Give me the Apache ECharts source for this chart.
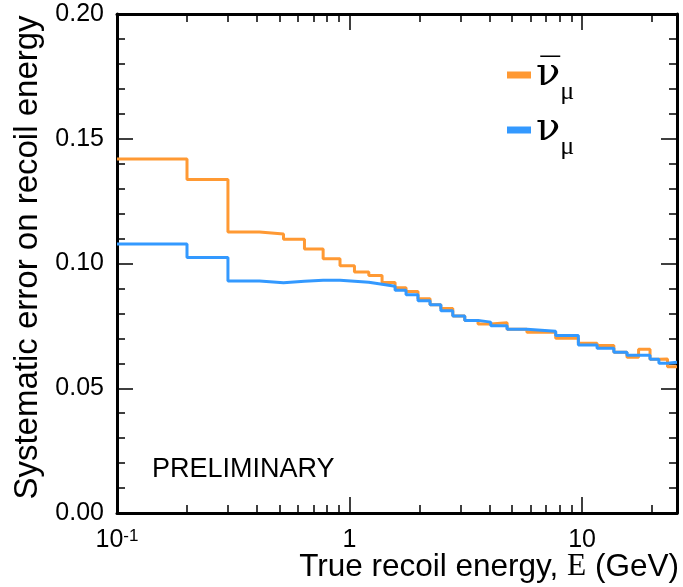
<!DOCTYPE html>
<html><head><meta charset="utf-8">
<script src="https://cdn.jsdelivr.net/npm/echarts@6/dist/echarts.min.js"></script>
<style>html,body{margin:0;padding:0;background:#fff}#c{width:683px;height:587px}</style>
</head><body><div id="c"></div>
<script>
// Bin edges (GeV) of the step histograms
const binEdges = [0.1,0.2,0.3,0.41,0.52,0.64,0.77,0.91,1.05,1.21,1.38,1.57,1.75,1.97,2.22,2.47,2.78,3.13,3.57,4.05,4.76,5.79,7.7,9.64,11.6,13.7,15.6,17.5,19.6,21.4,23.3,25.6];
// anti-neutrino (orange)
const antiNuMu = [0.1419,0.1337,0.1126,0.1118,0.1097,0.1058,0.1019,0.0991,0.0966,0.0952,0.0924,0.0903,0.0888,0.0859,0.0835,0.0820,0.0790,0.0772,0.0758,0.0763,0.0736,0.0724,0.0700,0.0680,0.0671,0.0644,0.0624,0.0656,0.0616,0.0617,0.0586];
// neutrino (blue)
const nuMu = [0.1078,0.1024,0.0930,0.0923,0.0929,0.0933,0.0933,0.0929,0.0925,0.0917,0.0909,0.0893,0.0875,0.0851,0.0835,0.0811,0.0790,0.0772,0.0765,0.0751,0.0736,0.0728,0.0711,0.0673,0.0660,0.0644,0.0632,0.0632,0.0616,0.0600,0.0604];
// axis ticks
const xMajorTicks = [0.1, 1, 10];
const xMinorTicks = [0.2,0.3,0.4,0.5,0.6,0.7,0.8,0.9,2,3,4,5,6,7,8,9,20];
const xTickLabels = {'-1': '10{s|-1}', '0': '1', '1': '10'};

function stepData(vals) {
  const d = vals.map((v, i) => [binEdges[i], v]);
  d.push([binEdges[binEdges.length - 1], vals[vals.length - 1]]);
  return d;
}

const SANS = 'Liberation Sans';
const SERIF = 'Liberation Serif';
const tickStyle = {color: '#000', width: 1.5};
const lineAx = {show: true, lineStyle: {color: '#000', width: 3}};

const xBase = {
  type: 'log', logBase: 10, min: 0.1, max: 25.6,
  splitLine: {show: false}, minorTick: {show: false}, minorSplitLine: {show: false}
};
const yBase = {
  type: 'value', min: 0, max: 0.2, interval: 0.05,
  splitLine: {show: false}, minorSplitLine: {show: false},
  axisTick: {show: true, inside: true, length: 16, lineStyle: tickStyle},
  minorTick: {show: true, splitNumber: 5, length: 8, lineStyle: tickStyle},
  axisLine: lineAx
};

const chart = echarts.init(document.getElementById('c'), null, {renderer: 'canvas'});
chart.setOption({
  animation: false,
  backgroundColor: '#fff',
  grid: {left: 117, right: 6, top: 14, bottom: 74, containLabel: false, outerBoundsMode: 'none'},
  title: {
    text: 'PRELIMINARY', left: 147, top: 451,
    textStyle: {fontFamily: SANS, fontSize: 27, fontWeight: 'normal', color: '#000'}
  },
  legend: {
    orient: 'vertical', left: 502, top: 50,
    itemWidth: 24, itemHeight: 7, itemGap: 5, icon: 'rect',
    data: ['antiNuMu', 'nuMu'],
    formatter: n => n === 'antiNuMu' ? '{nu|\u03BD\u0305}{sub|\u03BC}' : '{nu|\u03BD}{sub|\u03BC}',
    textStyle: {
      color: '#000',
      rich: {
        nu: {fontFamily: 'DejaVu Serif', fontSize: 40, lineHeight: 48, color: '#000'},
        sub: {fontFamily: SERIF, fontSize: 26, lineHeight: 60, verticalAlign: 'bottom', color: '#000'}
      }
    }
  },
  xAxis: [
    Object.assign({}, xBase, {
      position: 'bottom',
      axisLine: lineAx,
      axisTick: {show: true, inside: true, length: 16, lineStyle: tickStyle, customValues: xMajorTicks},
      axisLabel: {
        customValues: xMajorTicks, margin: 15, color: '#000', fontFamily: SANS, fontSize: 25,
        formatter: v => xTickLabels[String(Math.round(Math.log10(v)))],
        rich: {s: {fontFamily: SANS, fontSize: 17, verticalAlign: 'top', lineHeight: 17, color: '#000'}}
      },
      name: '{a|True recoil energy, }{e|E}{a| (GeV)}',
      nameLocation: 'end', nameGap: 2, nameMoveOverlap: false,
      nameTextStyle: {
        align: 'right', verticalAlign: 'top', padding: [37, 0, 0, 0],
        rich: {
          a: {fontFamily: SANS, fontSize: 31.5, color: '#000', lineHeight: 34},
          e: {fontFamily: 'Liberation Serif', fontSize: 31.5, color: '#000', lineHeight: 34}
        }
      }
    }),
    Object.assign({}, xBase, {
      position: 'bottom', axisLine: {show: false},
      axisTick: {show: true, inside: true, length: 8, lineStyle: tickStyle, customValues: xMinorTicks},
      axisLabel: {show: false}
    }),
    Object.assign({}, xBase, {
      position: 'top', axisLine: lineAx,
      axisTick: {show: true, inside: true, length: 16, lineStyle: tickStyle, customValues: xMajorTicks},
      axisLabel: {show: false}
    }),
    Object.assign({}, xBase, {
      position: 'top', axisLine: {show: false},
      axisTick: {show: true, inside: true, length: 8, lineStyle: tickStyle, customValues: xMinorTicks},
      axisLabel: {show: false}
    })
  ],
  yAxis: [
    Object.assign({}, yBase, {
      position: 'left',
      axisLabel: {margin: 13, color: '#000', fontFamily: SANS, fontSize: 25, formatter: v => v.toFixed(2)},
      name: 'Systematic error on recoil energy',
      nameLocation: 'middle', nameGap: 68,
      nameTextStyle: {fontFamily: SANS, fontSize: 33, color: '#000', lineHeight: 34, padding: [0, 0, 0, 12]}
    }),
    Object.assign({}, yBase, {position: 'right', axisLabel: {show: false}})
  ],
  series: [
    {
      name: 'antiNuMu', type: 'line', step: 'end', symbol: 'none',
      xAxisIndex: 0, yAxisIndex: 0,
      data: stepData(antiNuMu),
      itemStyle: {color: '#FF9933'},
      lineStyle: {color: '#FF9933', width: 3}
    },
    {
      name: 'nuMu', type: 'line', step: 'end', symbol: 'none',
      xAxisIndex: 0, yAxisIndex: 0,
      data: stepData(nuMu),
      itemStyle: {color: '#3399FF'},
      lineStyle: {color: '#3399FF', width: 3}
    }
  ]
});
</script>
</body></html>
